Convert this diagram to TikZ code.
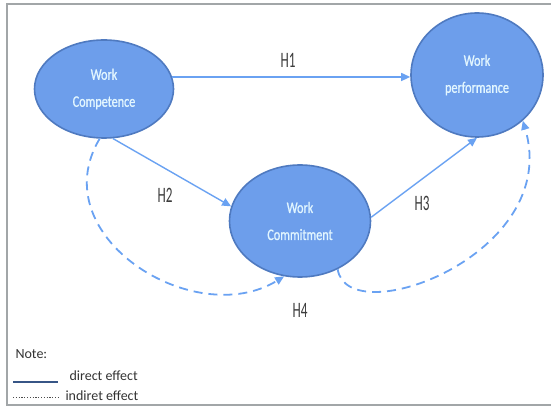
\documentclass[tikz,border=0pt]{standalone}
\usepackage{fontspec}
\setmainfont{Carlito}
\newfontfamily\narrowfont[FakeStretch=0.76, FakeBold=1]{Carlito}
\newfontfamily\hypfont[FakeStretch=0.6]{Carlito}
\usetikzlibrary{shapes.geometric, arrows.meta}
\definecolor{blobfill}{HTML}{6D9EEB}
\definecolor{blobline}{HTML}{4F7AC0}
\definecolor{blobtext}{HTML}{E2F6FF}
\definecolor{pathblue}{HTML}{6AA2F2}
\definecolor{labelgray}{HTML}{3C3C3C}
\definecolor{framegray}{HTML}{A2A6A8}

\begin{document}
\begin{tikzpicture}[x=1pt, y=1pt,
    construct/.style={ellipse, draw=blobline, line width=1.6pt, fill=blobfill, text=blobtext,
        align=center, inner sep=0pt, font={\narrowfont\fontsize{16}{27}\selectfont}},
    direct/.style={pathblue, line width=1.4pt, -{Triangle[length=9pt,width=8pt]}},
    indirect/.style={pathblue, line width=1.8pt, dash pattern=on 9pt off 6pt,
        -{Triangle[length=9pt,width=8pt]}},
    hyp/.style={text=labelgray, font={\hypfont\fontsize{22}{22}\selectfont}},
    legend/.style={anchor=base west, text=black!80, font={\fontsize{14}{14}\selectfont}}]
    \useasboundingbox (0,0) rectangle (551,407);
    % Frame round the figure
        \draw[framegray, line width=1.5pt] (551,403) -| (7,2) -- (551,2);
    % Draw the three constructs
        \node[construct, minimum width=139pt, minimum height=98pt] (comp) at (104,318) {Work\\Competence};
        \node[construct, minimum width=132pt, minimum height=124pt] (perf) at (477,332) {Work\\performance};
        \node[construct, minimum width=141pt, minimum height=112pt] (commit) at (300,186) {Work\\Commitment};
    % Direct paths H1, H2, H3
        \draw[direct] (comp.10) -- (comp.10 -| perf.west);
        \draw[direct] (comp.280) -- (commit.168);
        \draw[direct] (commit.3) -- (perf.south);
    % Indirect path H4 through the commitment
        \draw[indirect] (comp.265) .. controls +(-58,-97) and +(-90,-55) .. (commit.254);
        \draw[indirect] (commit.308) .. controls +(10,-64) and +(40,-134) .. (perf.-45);
    % Hypothesis labels
        \node[hyp] (h1) at (288,347) {H1};
        \node[hyp] (h2) at (165,212) {H2};
        \node[hyp] (h3) at (422,204) {H3};
        \node[hyp] (h4) at (300,97) {H4};
    % Legend
        \node[legend] (note) at (12,49) {Note:};
        \node[legend] (directtxt) at (66,27) {direct effect};
        \node[legend] (indirecttxt) at (62,7) {indiret effect};
        \draw[blobline!70!black, line width=1.2pt] ([xshift=-53pt, yshift=-2pt]directtxt.base west) -- ([xshift=-8pt, yshift=-2pt]directtxt.base west);
        \draw[black!70, line width=0.9pt, dash pattern=on 1.2pt off 1.6pt] ([xshift=-49pt, yshift=3pt]indirecttxt.base west) -- ([xshift=-2pt, yshift=3pt]indirecttxt.base west);
\end{tikzpicture}
\end{document}
